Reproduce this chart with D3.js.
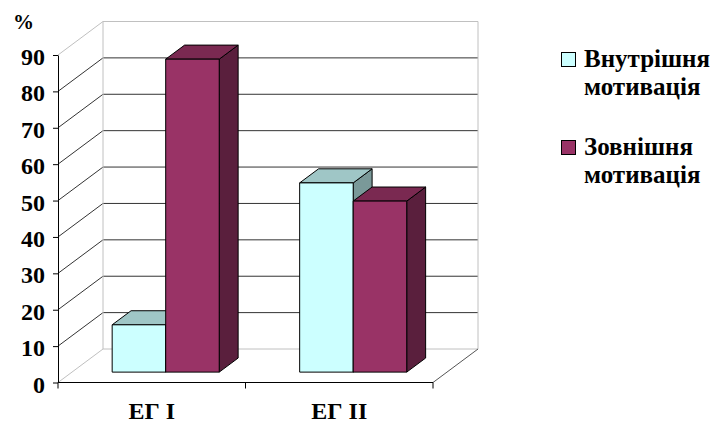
<!DOCTYPE html>
<html>
<head>
<meta charset="utf-8">
<script src="https://cdn.jsdelivr.net/npm/d3@7/dist/d3.min.js"></script>
<style>
  html, body { margin: 0; padding: 0; background: #fff; }
  svg { display: block; }
</style>
</head>
<body>
<svg id="chart" width="710" height="423"></svg>
<script>
// Data
const categories = ["ЕГ І", "ЕГ ІІ"];
const seriesNames = ["Внутрішня мотивація", "Зовнішня мотивація"];
const internalData = [13, 52];
const externalData = [86, 47];
const yTicks = [0, 10, 20, 30, 40, 50, 60, 70, 80, 90];

const values = [internalData, externalData];

// Colours for each series: front, top, side
const palette = [
  { front: "#CCFFFF", top: "#9FC6C6", side: "#7A9999" },
  { front: "#993366", top: "#7A2951", side: "#5A1F3D" }
];

// bold serif text of a given size
function styleText(sel, size) {
  sel.attr("style", `font: bold ${size}px 'Times New Roman'; fill: #000;`);
}

const svg = d3.select("#chart");

// Plot geometry (front plane) and depth vector of the 3D box
const plotLeft = 58, plotRight = 433, plotBottom = 382.5, plotTop = 55;
const depthX = 45, depthY = -33.5;
const barDepthFront = 0.31, barDepthBack = 0.73;

const y = d3.scaleLinear().domain([0, 90]).range([plotBottom, plotTop]);
const x0 = d3.scaleBand().domain(categories).range([plotLeft, plotRight]).padding(0);
const groupW = x0.bandwidth() * 0.571;
const x1 = d3.scaleBand().domain(d3.range(seriesNames.length)).range([0, groupW]).padding(0);

// projection of a point at depth fraction f
const P = (px, py, f) => [px + f * depthX, py + f * depthY];
const poly = pts => "M" + pts.map(p => p.join(",")).join("L") + "Z";

const light = "#C0C0C0", dark = "#333";

// Back wall and side wall lines
const g = svg.append("g");
yTicks.forEach(v => {
  const edge = (v === 0 || v === 90);
  const a = P(plotLeft, y(v), 0), b = P(plotLeft, y(v), 1);
  g.append("line").attr("x1", a[0]).attr("y1", a[1]).attr("x2", b[0]).attr("y2", b[1])
    .attr("stroke", edge ? light : dark).attr("stroke-width", 1);
  const c = P(plotRight, y(v), 1);
  g.append("line").attr("x1", b[0]).attr("y1", b[1]).attr("x2", c[0]).attr("y2", c[1])
    .attr("stroke", edge ? light : dark).attr("stroke-width", 1);
});
// back wall vertical edges
[plotLeft, plotRight].forEach(px => {
  const a = P(px, y(0), 1), b = P(px, y(90), 1);
  g.append("line").attr("x1", a[0]).attr("y1", a[1]).attr("x2", b[0]).attr("y2", b[1])
    .attr("stroke", light).attr("stroke-width", 1);
});
// floor right edge
{
  const a = P(plotRight, y(0), 0), b = P(plotRight, y(0), 1);
  g.append("line").attr("x1", a[0]).attr("y1", a[1]).attr("x2", b[0]).attr("y2", b[1])
    .attr("stroke", "#555").attr("stroke-width", 1);
}

// Bars
const bars = svg.append("g");
categories.forEach((cat, ci) => {
  seriesNames.forEach((s, si) => {
    const v = values[si][ci];
    const xl = x0(cat) + (x0.bandwidth() - groupW) / 2 + x1(si);
    const xr = xl + x1.bandwidth();
    const yt = y(v), yb = y(0);
    const c = palette[si];
    const f0 = barDepthFront, f1 = barDepthBack;
    bars.append("path").attr("d", poly([P(xr, yt, f0), P(xr, yt, f1), P(xr, yb, f1), P(xr, yb, f0)]))
      .attr("fill", c.side).attr("stroke", "#000").attr("stroke-width", 1).attr("stroke-linejoin", "round");
    bars.append("path").attr("d", poly([P(xl, yt, f0), P(xl, yt, f1), P(xr, yt, f1), P(xr, yt, f0)]))
      .attr("fill", c.top).attr("stroke", "#000").attr("stroke-width", 1).attr("stroke-linejoin", "round");
    bars.append("path").attr("d", poly([P(xl, yt, f0), P(xr, yt, f0), P(xr, yb, f0), P(xl, yb, f0)]))
      .attr("fill", c.front).attr("stroke", "#000").attr("stroke-width", 1).attr("stroke-linejoin", "round");
  });
});

// Y axis
const yAxis = d3.axisLeft(y).tickValues(yTicks).tickSize(5).tickSizeOuter(0).tickPadding(8);
const ya = svg.append("g").attr("transform", `translate(${plotLeft},0)`).call(yAxis)
  .attr("font-family", null).attr("font-size", null);
ya.select(".domain").attr("stroke", "#000");
ya.selectAll(".tick line").attr("stroke", "#000");
ya.selectAll(".tick text").call(styleText, 24).attr("dy", "0.4em");

// X axis
const xa = svg.append("g");
xa.append("line").attr("x1", plotLeft).attr("x2", plotRight).attr("y1", plotBottom).attr("y2", plotBottom)
  .attr("stroke", "#000").attr("stroke-width", 1);
const boundaries = categories.map(c => x0(c)).concat([x0.range()[1]]);
boundaries.forEach(bx => {
  xa.append("line").attr("x1", bx).attr("x2", bx).attr("y1", plotBottom).attr("y2", plotBottom + 6)
    .attr("stroke", "#000").attr("stroke-width", 1);
});
categories.forEach(c => {
  xa.append("text").attr("x", x0(c) + x0.bandwidth() / 2).attr("y", 419)
    .attr("text-anchor", "middle").call(styleText, 24).text(c);
});

// Unit label
svg.append("text").attr("x", 13).attr("y", 29).call(styleText, 21).text("%");

// Legend
const legendRows = [
  { lines: ["Внутрішня", "мотивація"], cy: 59.5, base: 67 },
  { lines: ["Зовнішня", "мотивація"], cy: 147.5, base: 155 }
];
const lg = svg.append("g");
legendRows.forEach((r, i) => {
  lg.append("rect").attr("x", 561.5).attr("y", r.cy - 7).attr("width", 14).attr("height", 14)
    .attr("fill", palette[i].front).attr("stroke", "#000").attr("stroke-width", 1);
  r.lines.forEach((t, j) => {
    lg.append("text").attr("x", 584).attr("y", r.base + j * 28)
      .call(styleText, 25).text(t);
  });
});
</script>
</body>
</html>
